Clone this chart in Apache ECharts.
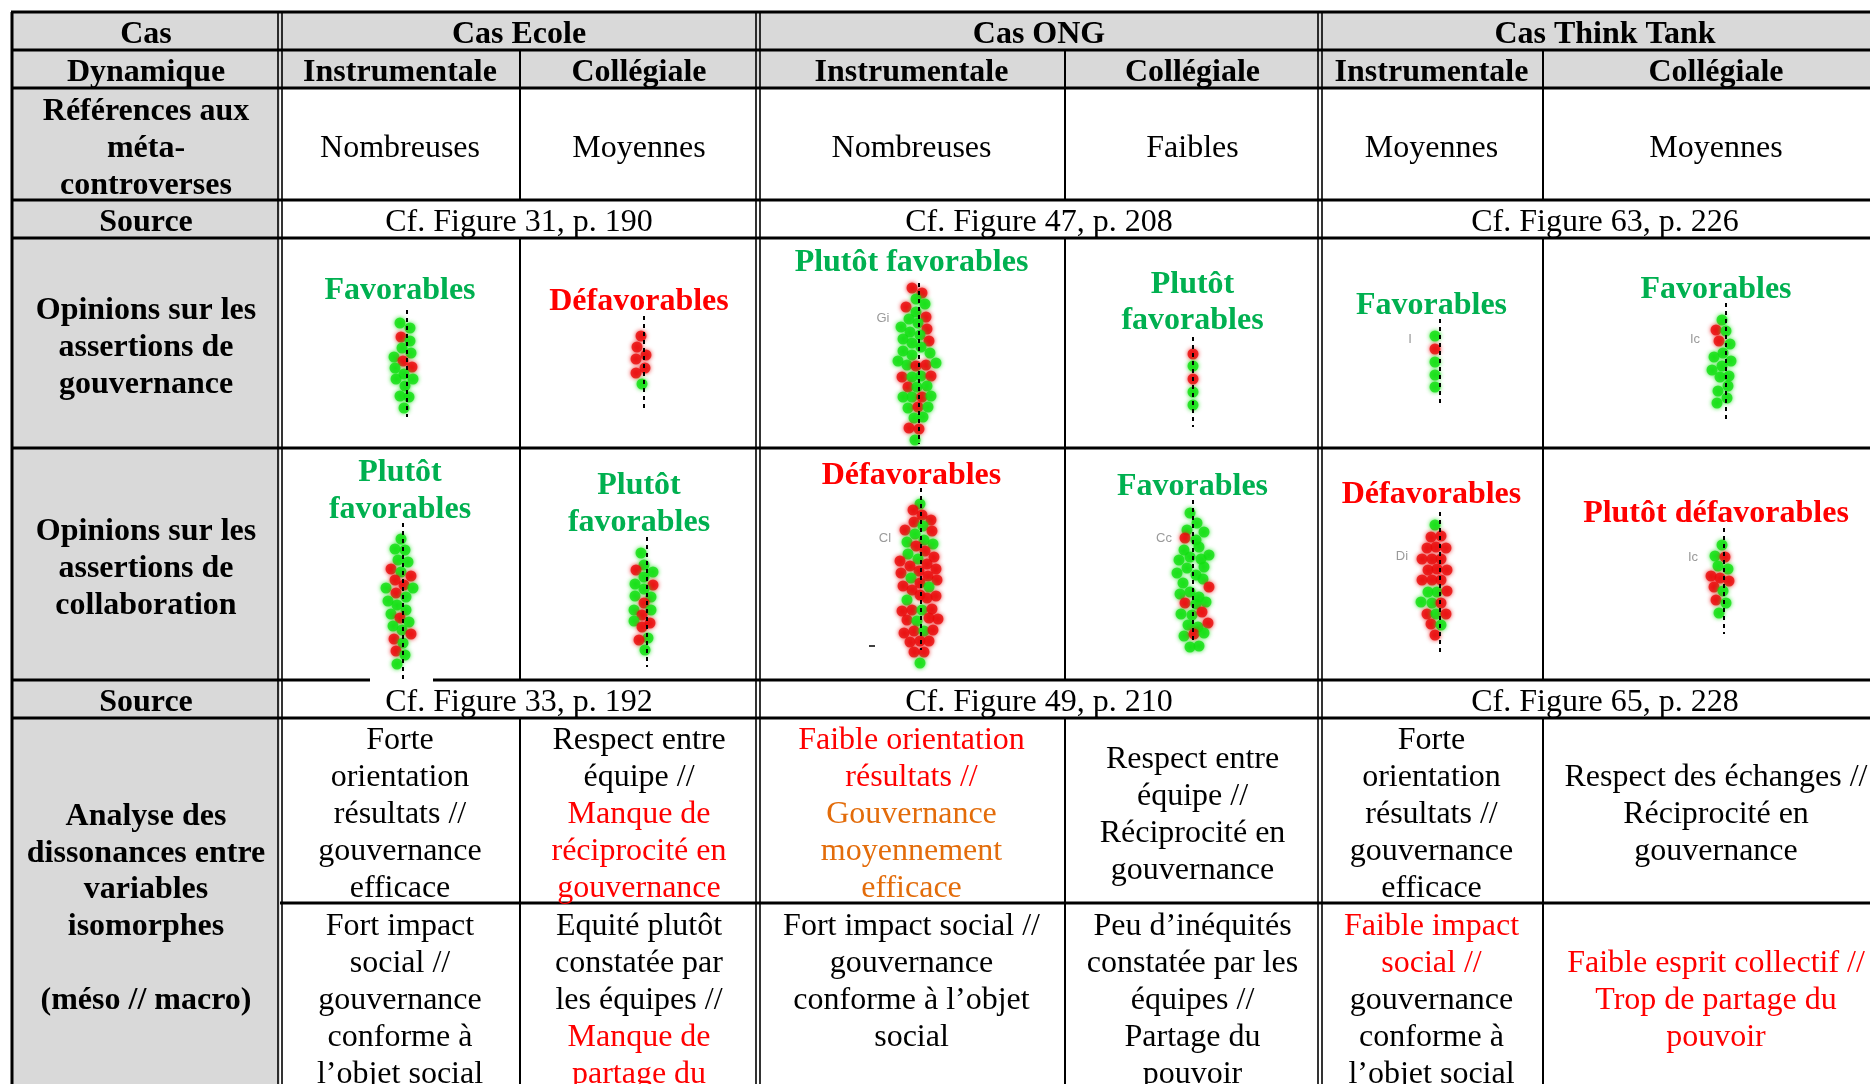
<!DOCTYPE html>
<html><head><meta charset="utf-8">
<script src="https://cdn.jsdelivr.net/npm/echarts@6/dist/echarts.min.js"></script>
<style>html,body{margin:0;padding:0;background:#fff}#c{width:1870px;height:1084px}</style>
</head><body><div id="c"></div>
<script>
// ---------- DATA: beeswarm dots per plot  [jitter, score, favourable(1)/unfavourable(0)] ----------
const ecoleInstrGov = [[-7,13,1],[3,18,1],[-6,27,0],[3,31,1],[-5,38,1],[4,43,1],[-13,47,1],[-4,51,0],[5,57,0],[-12,58,1],[-3,64,1],[-11,69,1],[6,69,1],[-2,76,1],[-7,86,1],[2,87,1],[-3,98,1]];
const ecoleCollGov = [[-3,20,0],[-7,31,0],[2,39,0],[-8,43,0],[1,52,0],[-8,57,0],[-2,68,1]];
const ongInstrGov = [[-7,5,0],[3,10,0],[-3,16,1],[6,21,1],[-13,24,0],[-3,29,1],[7,34,0],[-10,36,1],[-1,40,1],[-18,44,1],[8,46,0],[-9,49,1],[1,52,1],[-16,56,1],[10,58,0],[-7,60,1],[2,64,1],[-16,68,1],[11,70,1],[-7,72,1],[-21,78,1],[-12,82,1],[-3,83,0],[7,82,0],[17,80,1],[-17,94,0],[-7,94,1],[2,93,1],[12,93,0],[-11,104,0],[-2,104,1],[8,103,1],[-16,114,1],[-7,114,1],[3,114,0],[12,113,1],[-11,125,1],[-1,124,0],[9,124,1],[-5,135,1],[4,134,1],[-10,145,0],[0,146,0],[-4,157,1]];
const ongCollGov = [[0,17,0],[0,29,1],[0,42,0],[0,55,1],[0,68,1]];
const ttInstrGov = [[-5,17,1],[-5,30,0],[-5,43,1],[-5,56,1],[-5,68,1]];
const ttCollGov = [[-4,17,1],[-10,27,0],[0,28,1],[-7,38,0],[4,41,1],[-3,50,1],[-12,54,1],[5,58,1],[-4,63,1],[-14,67,1],[-6,74,1],[3,73,1],[2,83,1],[-8,88,1],[1,95,1],[-9,100,1]];
const ecoleInstrCol = [[-2,16,1],[-8,26,1],[2,27,1],[-5,37,1],[5,39,1],[-12,46,0],[-2,49,1],[8,53,0],[-8,57,0],[1,62,0],[-17,65,1],[10,65,1],[-7,70,0],[3,74,1],[-15,78,1],[-6,82,1],[3,87,1],[-12,91,1],[-3,95,0],[6,99,1],[-10,103,1],[-1,107,1],[8,111,0],[-9,116,0],[0,120,1],[-7,128,0],[2,132,1],[-6,141,1]];
const ecoleCollCol = [[-6,16,1],[-3,28,1],[-11,33,0],[6,35,1],[-3,40,1],[-12,47,1],[6,48,0],[-3,52,1],[-12,59,1],[4,60,1],[-3,66,0],[-13,73,1],[4,73,1],[-5,78,0],[-13,84,1],[3,86,0],[-5,90,0],[1,101,1],[-8,103,0],[-2,113,1]];
const ongInstrCol = [[-1,16,1],[-8,22,0],[1,27,0],[-7,34,0],[10,32,0],[2,38,1],[-16,42,0],[-6,46,1],[11,43,0],[-14,54,1],[3,52,1],[12,56,1],[-5,58,0],[-13,66,1],[4,63,0],[-21,73,0],[-3,71,1],[13,69,0],[-11,78,0],[6,76,0],[-20,85,0],[-2,83,0],[15,81,0],[-10,90,1],[7,88,0],[-18,98,0],[-1,95,0],[16,92,0],[-9,102,0],[8,99,1],[-1,107,0],[15,108,0],[-14,112,1],[6,110,0],[-19,123,0],[-9,122,0],[1,122,1],[11,121,0],[-14,132,0],[-4,133,1],[8,130,0],[17,131,0],[-17,145,0],[-7,143,0],[3,143,1],[12,142,0],[-11,154,0],[-1,153,0],[8,153,0],[-7,164,0],[3,164,0],[-1,175,1]];
const ongCollCol = [[-3,13,1],[4,23,1],[-6,30,1],[11,32,1],[-8,38,0],[3,40,1],[-9,50,1],[6,47,1],[16,55,1],[-14,60,1],[-3,57,1],[8,59,1],[-16,73,1],[-6,68,1],[11,67,1],[3,75,1],[-10,83,1],[10,79,1],[16,87,0],[-13,94,1],[-3,92,1],[6,97,1],[-8,103,0],[3,104,1],[13,102,1],[-12,114,1],[-1,115,1],[9,112,0],[-5,125,1],[5,127,1],[15,123,0],[-9,136,1],[1,134,0],[11,133,1],[-3,147,1],[6,146,1]];
const ttInstrCol = [[-5,13,1],[-9,25,0],[1,24,0],[-13,36,0],[-4,35,0],[6,36,0],[-18,47,0],[-8,47,0],[1,47,0],[-12,58,0],[-3,57,0],[7,58,0],[-18,68,0],[-8,68,0],[1,68,0],[-12,80,1],[-3,80,1],[7,79,0],[-19,90,1],[-8,91,1],[1,91,0],[-13,102,0],[-4,102,1],[6,102,0],[-9,112,0],[1,113,1],[-5,123,0]];
const ttCollCol = [[-2,17,1],[-9,28,1],[1,29,0],[-6,38,1],[4,41,1],[-13,48,0],[-4,50,0],[5,53,0],[-10,59,0],[-1,63,1],[-8,72,0],[2,75,1],[-5,85,1]];
// score-axis extent of each plot (dashed axis line length)
const axisSpan = [107, 92, 161, 90, 87, 118, 157, 130, 162, 143, 144, 106];

const plots = [ecoleInstrGov, ecoleCollGov, ongInstrGov, ongCollGov, ttInstrGov, ttCollGov,
               ecoleInstrCol, ecoleCollCol, ongInstrCol, ongCollCol, ttInstrCol, ttCollCol];

// ---------- LAYOUT (positions only) ----------
const plotPos = [[407,310],[644,316],[919,283],[1193,337],[1440,319],[1726,303],
                 [403,523],[647,537],[921,488],[1193,500],[1440,512],[1724,528]];

const X = [12,280,520,758,1065,1320,1543,1889];
const Y = [12,50,88,200,238,448,680,718,903,1200];
const CX = [146,400,639,911.5,1192.5,1431.5,1716];
const GROUPX = [519,1039,1605];
const TY = 3.5; // baseline tweak for text centring

const GREY = '#d9d9d9', GREENT = '#00b050', REDT = '#ff0000', ORANGE = '#e36c0a', BLACK = '#000';
const DOTG = '#12e012', DOTR = '#ea0a0a';
const FN = '32px "Liberation Serif", "Times New Roman", serif';
const FB = 'bold 32px "Liberation Serif", "Times New Roman", serif';

const g = [];
function rect(x1,y1,x2,y2,fill,z){ g.push({type:'rect', z:z||0, silent:true, shape:{x:x1,y:y1,width:x2-x1,height:y2-y1}, style:{fill:fill}}); }
function line(x1,y1,x2,y2,w,z){ g.push({type:'line', z:z||5, silent:true, shape:{x1:x1,y1:y1,x2:x2,y2:y2}, style:{stroke:'#000', lineWidth:w}}); }
function txt(x,y,s,font,fill){ g.push({type:'text', z:10, silent:true, x:x, y:y+TY, style:{text:s, font:font, fill:fill||BLACK, textAlign:'center', textVerticalAlign:'middle', align:'center', verticalAlign:'middle'}}); }
function lines(x,ys,arr){ arr.forEach((a,i)=>{ if(a) txt(x, ys[i], a[0], a[2]||FN, a[1]||BLACK); }); }

// backgrounds
rect(0,0,1870,1084,'#fff',-1);
rect(X[0],Y[0],X[1],Y[9],GREY,0);
rect(X[1],Y[0],X[7],Y[2],GREY,0);

// horizontal borders
[Y[0],Y[1],Y[2],Y[3],Y[4],Y[5],Y[6],Y[7]].forEach(y=>line(X[0]-1,y,X[7],y,3));
line(X[1],Y[8],X[7],Y[8],3);
// vertical borders
line(X[0],Y[0],X[0],Y[9],3);
[X[1],X[3],X[5]].forEach(x=>{ line(x-2,Y[0],x-2,Y[9],1.6); line(x+2,Y[0],x+2,Y[9],1.6); });
[X[2],X[4],X[6]].forEach(x=>{ line(x,Y[1],x,Y[3],2); line(x,Y[4],x,Y[6],2); line(x,Y[7],x,Y[9],2); });
// small white patch where the image overlaps the border
rect(370,678,433,683,'#fff',6);

// headers
txt(CX[0],31,'Cas',FB);
txt(GROUPX[0],31,'Cas Ecole',FB); txt(GROUPX[1],31,'Cas ONG',FB); txt(GROUPX[2],31,'Cas Think Tank',FB);
txt(CX[0],69,'Dynamique',FB);
['Instrumentale','Collégiale','Instrumentale','Collégiale','Instrumentale','Collégiale'].forEach((s,i)=>txt(CX[i+1],69,s,FB));
// références
lines(CX[0],[108.5,145.5,182.5],[['Références aux',0,FB],['méta-',0,FB],['controverses',0,FB]]);
['Nombreuses','Moyennes','Nombreuses','Faibles','Moyennes','Moyennes'].forEach((s,i)=>txt(CX[i+1],145,s,FN));
// source 1
txt(CX[0],219,'Source',FB);
txt(GROUPX[0],219,'Cf. Figure 31, p. 190',FN); txt(GROUPX[1],219,'Cf. Figure 47, p. 208',FN); txt(GROUPX[2],219,'Cf. Figure 63, p. 226',FN);
// opinions
lines(CX[0],[307.5,344.5,381.5],[['Opinions sur les',0,FB],['assertions de',0,FB],['gouvernance',0,FB]]);
lines(CX[0],[528,565,602],[['Opinions sur les',0,FB],['assertions de',0,FB],['collaboration',0,FB]]);
txt(CX[1],287,'Favorables',FB,GREENT);
txt(CX[2],298,'Défavorables',FB,REDT);
txt(CX[3],259,'Plutôt favorables',FB,GREENT);
txt(CX[4],281,'Plutôt',FB,GREENT); txt(CX[4],317,'favorables',FB,GREENT);
txt(CX[5],302,'Favorables',FB,GREENT);
txt(CX[6],286,'Favorables',FB,GREENT);
txt(CX[1],469,'Plutôt',FB,GREENT); txt(CX[1],506,'favorables',FB,GREENT);
txt(CX[2],482,'Plutôt',FB,GREENT); txt(CX[2],519,'favorables',FB,GREENT);
txt(CX[3],472,'Défavorables',FB,REDT);
txt(CX[4],483,'Favorables',FB,GREENT);
txt(CX[5],491,'Défavorables',FB,REDT);
txt(CX[6],510,'Plutôt défavorables',FB,REDT);
// small faded axis labels of the source figures
const SF = '13px "Liberation Sans", Arial, sans-serif';
[['Gi',883,318],['I',1410,339],['Ic',1695,339],['Cl',885,538],['Cc',1164,538],['Di',1402,556],['Ic',1693,557]].forEach(a=>{
  g.push({type:'text', z:10, silent:true, x:a[1], y:a[2], style:{text:a[0], font:SF, fill:'#9a9a9a', textAlign:'center', textVerticalAlign:'middle', align:'center', verticalAlign:'middle'}});
});
line(869,646,875,646,1.5,10);
// source 2
txt(CX[0],699,'Source',FB);
txt(GROUPX[0],699,'Cf. Figure 33, p. 192',FN); txt(GROUPX[1],699,'Cf. Figure 49, p. 210',FN); txt(GROUPX[2],699,'Cf. Figure 65, p. 228',FN);
// analyse
lines(CX[0],[813,850,886,923,960,997],[['Analyse des',0,FB],['dissonances entre',0,FB],['variables',0,FB],['isomorphes',0,FB],null,['(méso // macro)',0,FB]]);
const L1 = [737,774,811,848,885];
lines(CX[1],L1,[['Forte'],['orientation'],['résultats //'],['gouvernance'],['efficace']]);
lines(CX[2],L1,[['Respect entre'],['équipe //'],['Manque de',REDT],['réciprocité en',REDT],['gouvernance',REDT]]);
lines(CX[3],L1,[['Faible orientation',REDT],['résultats //',REDT],['Gouvernance',ORANGE],['moyennement',ORANGE],['efficace',ORANGE]]);
lines(CX[4],[756,793,830,867],[['Respect entre'],['équipe //'],['Réciprocité en'],['gouvernance']]);
lines(CX[5],L1,[['Forte'],['orientation'],['résultats //'],['gouvernance'],['efficace']]);
lines(CX[6],[774,811,848],[['Respect des échanges //'],['Réciprocité en'],['gouvernance']]);
const L2 = [923,960,997,1034,1071,1108];
lines(CX[1],L2,[['Fort impact'],['social //'],['gouvernance'],['conforme à'],['l’objet social']]);
lines(CX[2],L2,[['Equité plutôt'],['constatée par'],['les équipes //'],['Manque de',REDT],['partage du',REDT],['pouvoir',REDT]]);
lines(CX[3],L2,[['Fort impact social //'],['gouvernance'],['conforme à l’objet'],['social']]);
lines(CX[4],L2,[['Peu d’inéquités'],['constatée par les'],['équipes //'],['Partage du'],['pouvoir']]);
lines(CX[5],L2,[['Faible impact',REDT],['social //',REDT],['gouvernance'],['conforme à'],['l’objet social']]);
lines(CX[6],[960,997,1034],[['Faible esprit collectif //',REDT],['Trop de partage du',REDT],['pouvoir',REDT]]);

// ---------- charts ----------
const grids=[], xAxes=[], yAxes=[], series=[];
plots.forEach((pts,i)=>{
  const p = plotPos[i];
  grids.push({left:p[0]-40, top:p[1], width:80, height:axisSpan[i], containLabel:false});
  xAxes.push({gridIndex:i, type:'value', min:-40, max:40, show:false});
  yAxes.push({gridIndex:i, type:'value', min:0, max:axisSpan[i], inverse:true, show:false});
  series.push({type:'scatter', xAxisIndex:i, yAxisIndex:i, clip:false, z:3, symbolSize:11, silent:true,
    data: pts.map(d=>({value:[d[0],d[1]], itemStyle:{color: d[2]?DOTG:DOTR, shadowBlur:4, shadowColor: d[2]?DOTG:DOTR}}))});
  series.push({type:'line', xAxisIndex:i, yAxisIndex:i, clip:false, z:7, symbol:'none', silent:true,
    data:[[0,0],[0,axisSpan[i]]], lineStyle:{color:'#000', width:2, type:[4,4]}});
});

const chart = echarts.init(document.getElementById('c'), null, {renderer:'canvas'});
chart.setOption({animation:false, backgroundColor:'#fff', grid:grids, xAxis:xAxes, yAxis:yAxes, series:series, graphic:{elements:g}});
</script></body></html>
